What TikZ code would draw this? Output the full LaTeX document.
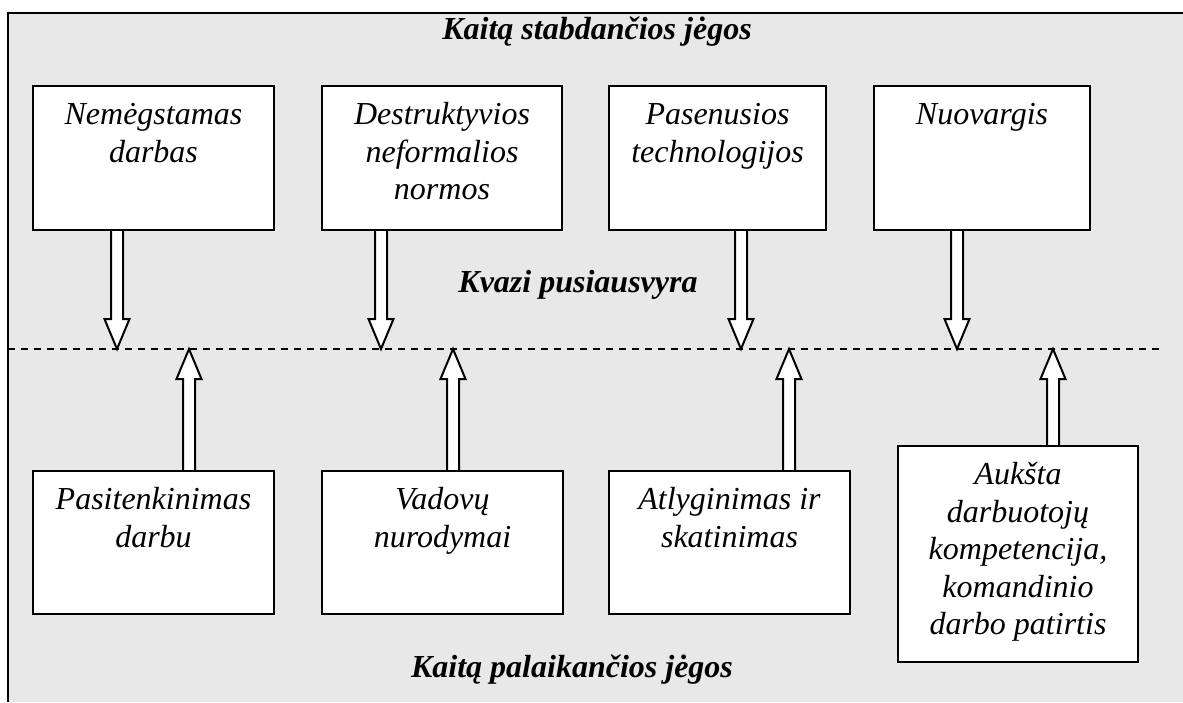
\documentclass[tikz,border=0pt]{standalone}
\usepackage{fontspec}
\setmainfont{Liberation Serif}
\usetikzlibrary{calc,positioning}
\pgfdeclarelayer{background}
\pgfsetlayers{background,main}
\definecolor{panelgray}{HTML}{E8E8E8}
\tikzset{
   hollow/.style={draw=black, fill=white, line width=1pt, line join=miter},
   eqline/.style={line width=0.8pt, dash pattern=on 3.5pt off 3pt}
}
% vertical block arrow: #1 = foot, #2 = tip
\newcommand{\hollowarrow}[2]{%
  \draw[hollow] let \p1=(#1), \p2=(#2), \p3=($(#2)!15pt!(#1)$) in
    (\x1-3pt,\y1) -- (\x1-3pt,\y3) -- (\x1-6.25pt,\y3) -- (\x2,\y2)
    -- (\x1+6.25pt,\y3) -- (\x1+3pt,\y3) -- (\x1+3pt,\y1);}

\begin{document}
\begin{tikzpicture}[x=0.5pt,y=-0.5pt,
                    force/.style={draw, fill=white, line width=1pt, inner sep=0pt, anchor=north west,
                                  minimum width=120.5pt, minimum height=72pt},
                    forcetext/.style={inner sep=0pt, align=center, font=\fontsize{16}{18.75}\selectfont\itshape},
                    heading/.style={inner sep=0pt, anchor=base, font=\fontsize{16}{18.75}\selectfont\bfseries\itshape}]
\useasboundingbox (0,0) rectangle (1183,702);
%
\node[force]                        (t1) at (32,85)  {};
\node[force,minimum width=120pt]    (t2) at (321,85) {};
\node[force,minimum width=108.5pt]  (t3) at (608,85) {};
\node[force,minimum width=108pt]    (t4) at (873,85) {};
\node[force,minimum height=71.5pt]  (b1) at (32,470)  {};
\node[force,minimum height=71.5pt]  (b2) at (321,470) {};
\node[force,minimum height=71.5pt]  (b3) at (608,470) {};
\node[force,minimum width=120pt,minimum height=108pt] (b4) at (897,445) {};
%
\node[forcetext,below=6.5pt of t1.north] (t1x) {\strut Nemėgstamas\\darbas};
\node[forcetext,below=6.5pt of t2.north] (t2x) {\strut Destruktyvios\\neformalios\\normos};
\node[forcetext,below=6.5pt of t3.north] (t3x) {\strut Pasenusios\\technologijos};
\node[forcetext,below=6.5pt of t4.north] (t4x) {\strut Nuovargis};
\node[forcetext,below=6.5pt of b1.north] (b1x) {\strut Pasitenkinimas\\darbu};
\node[forcetext,below=6.5pt of b2.north] (b2x) {\strut Vadovų\\nurodymai};
\node[forcetext,below=6.5pt of b3.north] (b3x) {\strut Atlyginimas ir\\skatinimas};
\node[forcetext,below=6.5pt of b4.north] (b4x) {\strut Aukšta\\darbuotojų\\kompetencija,\\komandinio\\darbo patirtis};
%
\node[heading] (top) at (597,39)  {Kaitą stabdančios jėgos};
\node[heading] (mid) at (578,292) {Kvazi pusiausvyra};
\node[heading] (bot) at (572,677) {Kaitą palaikančios jėgos};
%
\coordinate (dl) at (8,349);
\coordinate (dr) at (1162,349);
\coordinate (d1) at (117,349);
\coordinate (d2) at (381,349);
\coordinate (d3) at (741,349);
\coordinate (d4) at (957,349);
\coordinate (u1) at (189,349);
\coordinate (u2) at (453,349);
\coordinate (u3) at (789,349);
\coordinate (u4) at (1053,349);
%
\begin{pgfonlayer}{background}
\fill[panelgray] (8,13) rectangle (1183,702);
\draw[line width=1pt] (8,702) -- (8,13) -- (1183,13);
\draw[eqline] (dl) -- (dr);
\hollowarrow{t1.south -| d1}{d1}
\hollowarrow{t2.south -| d2}{d2}
\hollowarrow{t3.south -| d3}{d3}
\hollowarrow{t4.south -| d4}{d4}
\hollowarrow{b1.north -| u1}{u1}
\hollowarrow{b2.north -| u2}{u2}
\hollowarrow{b3.north -| u3}{u3}
\hollowarrow{b4.north -| u4}{u4}
\end{pgfonlayer}
\end{tikzpicture}
\end{document}
